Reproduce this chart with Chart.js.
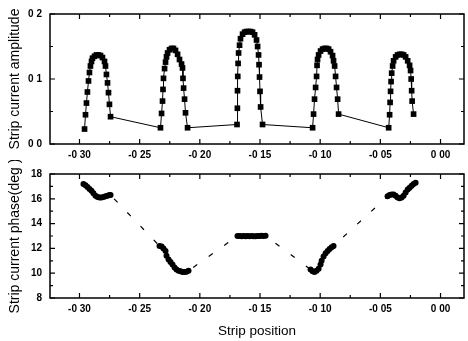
<!DOCTYPE html>
<html>
<head>
<meta charset="utf-8">
<script src="https://cdn.jsdelivr.net/npm/chart.js@4.4.1/dist/chart.umd.min.js"></script>
<style>
  body { margin: 0; background: #fff; }
  #wrap { position: relative; width: 468px; height: 341px; }
  canvas { position: absolute; left: 0; }
  #ampChart { top: 0; }
  #phaseChart { top: 160px; }
</style>
</head>
<body>
<div id="wrap">
  <canvas id="ampChart" width="468" height="160"></canvas>
  <canvas id="phaseChart" width="468" height="181"></canvas>
</div>
<script>
// x range and ticks (shared by both panels)
const xMin = -0.3245;
const xMax = 0.0195;
const xTicks = [-0.30, -0.25, -0.20, -0.15, -0.10, -0.05, 0.00];
const xTickLabels = ['-0 30', '-0 25', '-0 20', '-0 15', '-0 10', '-0 05', '0 00'];
const xMinor = [-0.275, -0.225, -0.175, -0.125, -0.075, -0.025];

// amplitude panel
const ampTicks = [0, 0.1, 0.2];
const ampTickLabels = ['0 0', '0 1', '0 2'];
const ampMinor = [0.05, 0.15];
const ampX = [
  -0.2958, -0.2950, -0.2942, -0.2934, -0.2925, -0.2917,
  -0.2909, -0.2900, -0.2892, -0.2875, -0.2859, -0.2842, -0.2825, -0.2809, -0.2792, -0.2784,
  -0.2776, -0.2767, -0.2759, -0.2751, -0.2742,
  -0.2327, -0.2318, -0.2310, -0.2306, -0.2302, -0.2293,
  -0.2285, -0.2277, -0.2268, -0.2252, -0.2235, -0.2219, -0.2202, -0.2185, -0.2169, -0.2152,
  -0.2144, -0.2140, -0.2135, -0.2127, -0.2119, -0.2102,
  -0.1691, -0.1688, -0.1687, -0.1685, -0.1682, -0.1678,
  -0.1670, -0.1662, -0.1645, -0.1628, -0.1612, -0.1595, -0.1579, -0.1562, -0.1545, -0.1529, -0.1520,
  -0.1512, -0.1508, -0.1504, -0.1500, -0.1495, -0.1479,
  -0.1063, -0.1055, -0.1047, -0.1038, -0.1030, -0.1026,
  -0.1022, -0.1013, -0.0997, -0.0980, -0.0963, -0.0947, -0.0930, -0.0914, -0.0897, -0.0889,
  -0.0880, -0.0872, -0.0864, -0.0855, -0.0847,
  -0.0431, -0.0423, -0.0419, -0.0415, -0.0411, -0.0406,
  -0.0398, -0.0390, -0.0373, -0.0357, -0.0340, -0.0323, -0.0307, -0.0290, -0.0273, -0.0257,
  -0.0249, -0.0244, -0.0240, -0.0236, -0.0224
];
const ampY = [
  0.023, 0.045, 0.063, 0.080, 0.097, 0.110,
  0.120, 0.127, 0.132, 0.135, 0.137, 0.137, 0.136, 0.133, 0.127, 0.120,
  0.107, 0.094, 0.079, 0.061, 0.042,
  0.025, 0.047, 0.066, 0.084, 0.101, 0.116,
  0.126, 0.134, 0.140, 0.145, 0.147, 0.147, 0.144, 0.138, 0.130, 0.123,
  0.117, 0.101, 0.086, 0.069, 0.048, 0.025,
  0.030, 0.055, 0.082, 0.104, 0.124, 0.140,
  0.152, 0.162, 0.169, 0.172, 0.173, 0.173, 0.173, 0.172, 0.168, 0.160, 0.150,
  0.137, 0.122, 0.103, 0.081, 0.057, 0.030,
  0.025, 0.046, 0.069, 0.087, 0.104, 0.121,
  0.130, 0.137, 0.143, 0.146, 0.147, 0.147, 0.146, 0.142, 0.136, 0.128,
  0.120, 0.104, 0.087, 0.069, 0.046,
  0.025, 0.045, 0.064, 0.081, 0.096, 0.109,
  0.120, 0.128, 0.134, 0.137, 0.138, 0.138, 0.137, 0.134, 0.128, 0.121,
  0.113, 0.100, 0.082, 0.066, 0.046
];

// phase panel
const phaseTicks = [8, 10, 12, 14, 16, 18];
const phaseTickLabels = ['8', '10', '12', '14', '16', '18'];
const phaseMinor = [9, 11, 13, 15, 17];
const phaseX = [
  -0.2967, -0.2950, -0.2934, -0.2917, -0.2900, -0.2884, -0.2867, -0.2850, -0.2834, -0.2817, -0.2800, -0.2784, -0.2767, -0.2751, -0.2742,
  -0.2335, -0.2318, -0.2302, -0.2285, -0.2277, -0.2260, -0.2244, -0.2227, -0.2210, -0.2194, -0.2177, -0.2160, -0.2144, -0.2127, -0.2111, -0.2094,
  -0.1687, -0.1670, -0.1653, -0.1637, -0.1620, -0.1604, -0.1587, -0.1570, -0.1554, -0.1537, -0.1520, -0.1504, -0.1487, -0.1471, -0.1454,
  -0.1080, -0.1063, -0.1047, -0.1030, -0.1013, -0.0997, -0.0988, -0.0972, -0.0955, -0.0938, -0.0922, -0.0905, -0.0889,
  -0.0440, -0.0423, -0.0406, -0.0390, -0.0373, -0.0357, -0.0340, -0.0323, -0.0307, -0.0290, -0.0273, -0.0257, -0.0240, -0.0224, -0.0207
];
const phaseY = [
  17.2, 17.1, 16.95, 16.8, 16.65, 16.45, 16.25, 16.15, 16.1, 16.1, 16.15, 16.2, 16.25, 16.3, 16.3,
  12.2, 12.15, 12.0, 11.8, 11.4, 11.1, 10.9, 10.7, 10.45, 10.3, 10.2, 10.15, 10.1, 10.1, 10.12, 10.2,
  13.0, 13.0, 12.98, 13.0, 12.97, 13.0, 12.98, 13.0, 12.97, 12.98, 13.0, 13.0, 13.02, 13.0, 13.02,
  10.3, 10.15, 10.1, 10.2, 10.35, 10.7, 11.0, 11.35, 11.6, 11.8, 11.95, 12.1, 12.2,
  16.2, 16.3, 16.35, 16.35, 16.25, 16.1, 16.05, 16.1, 16.25, 16.5, 16.75, 16.9, 17.05, 17.2, 17.3
];

const tickFont = { family: "'Liberation Sans', Arial, sans-serif", size: 10, weight: 'bold' };
const titleFont = { family: "'Liberation Sans', Arial, sans-serif", size: 14 };

// box around the plot plus inward tick marks on every side
const frameTicks = {
  id: 'frameTicks',
  afterDraw(chart, args, opts) {
    const { ctx, chartArea: a, scales: { x, y } } = chart;
    ctx.save();
    ctx.strokeStyle = '#000';
    ctx.lineWidth = 1.5;
    ctx.strokeRect(a.left, a.top, a.right - a.left, a.bottom - a.top);
    ctx.lineWidth = 1.2;
    ctx.beginPath();
    const xMark = (v, len) => {
      const px = x.getPixelForValue(v);
      ctx.moveTo(px, a.bottom); ctx.lineTo(px, a.bottom - len);
      ctx.moveTo(px, a.top); ctx.lineTo(px, a.top + len);
    };
    const yMark = (v, len) => {
      const py = y.getPixelForValue(v);
      ctx.moveTo(a.left, py); ctx.lineTo(a.left + len, py);
      ctx.moveTo(a.right, py); ctx.lineTo(a.right - len, py);
    };
    xTicks.forEach(v => xMark(v, 5));
    xMinor.forEach(v => xMark(v, 3));
    opts.yMajor.forEach(v => yMark(v, 5));
    opts.yMinor.forEach(v => yMark(v, 3));
    ctx.stroke();
    ctx.restore();
  }
};

function xScale(height, title) {
  return {
    type: 'linear', min: xMin, max: xMax,
    grid: { display: false, drawTicks: false },
    border: { display: false },
    afterBuildTicks: s => { s.ticks = xTicks.map(v => ({ value: v })); },
    afterFit: s => { s.height = height; },
    ticks: {
      callback: (v, i) => xTickLabels[i],
      font: tickFont, color: '#000', padding: 5, maxRotation: 0, autoSkip: false
    },
    title: title
  };
}

function yScale(min, max, ticks, labels, title) {
  return {
    type: 'linear', min: min, max: max,
    grid: { display: false, drawTicks: false },
    border: { display: false },
    afterBuildTicks: s => { s.ticks = ticks.map(v => ({ value: v })); },
    afterFit: s => { s.width = 50; },
    ticks: {
      callback: (v, i) => labels[i],
      font: tickFont, color: '#000', padding: 8, autoSkip: false
    },
    title: { display: true, text: title, font: titleFont, color: '#000', padding: { top: 7, bottom: 0 } }
  };
}

new Chart(document.getElementById('ampChart'), {
  type: 'scatter',
  data: {
    datasets: [{
      data: ampX.map((x, i) => ({ x: x, y: ampY[i] })),
      showLine: true,
      borderColor: '#000',
      borderWidth: 1,
      backgroundColor: '#000',
      pointStyle: 'rect',
      pointRadius: 4,
      pointBorderWidth: 0
    }]
  },
  options: {
    responsive: false, animation: false, devicePixelRatio: 1,
    layout: { padding: { top: 10, right: 4, left: 0, bottom: 0 } },
    plugins: {
      legend: { display: false }, tooltip: { enabled: false },
      frameTicks: { yMajor: ampTicks, yMinor: ampMinor }
    },
    scales: {
      x: xScale(16, { display: false }),
      y: yScale(0, 0.2, ampTicks, ampTickLabels, 'Strip current amplitude')
    }
  },
  plugins: [frameTicks]
});

new Chart(document.getElementById('phaseChart'), {
  type: 'scatter',
  data: {
    datasets: [{
      data: phaseX.map((x, i) => ({ x: x, y: phaseY[i] })),
      showLine: true,
      borderColor: '#000',
      borderWidth: 1.2,
      borderDash: [5, 14],
      backgroundColor: '#000',
      pointStyle: 'circle',
      pointRadius: 3,
      pointBorderWidth: 0
    }]
  },
  options: {
    responsive: false, animation: false, devicePixelRatio: 1,
    layout: { padding: { top: 3, right: 4, left: 0, bottom: 0 } },
    plugins: {
      legend: { display: false }, tooltip: { enabled: false },
      frameTicks: { yMajor: phaseTicks, yMinor: phaseMinor }
    },
    scales: {
      x: xScale(43, { display: true, text: 'Strip position', font: { family: "'Liberation Sans', Arial, sans-serif", size: 13.5 }, color: '#000', padding: { top: 2, bottom: 2 } }),
      y: yScale(8, 18, phaseTicks, phaseTickLabels, 'Strip current phase(deg )')
    }
  },
  plugins: [frameTicks]
});
</script>
</body>
</html>
